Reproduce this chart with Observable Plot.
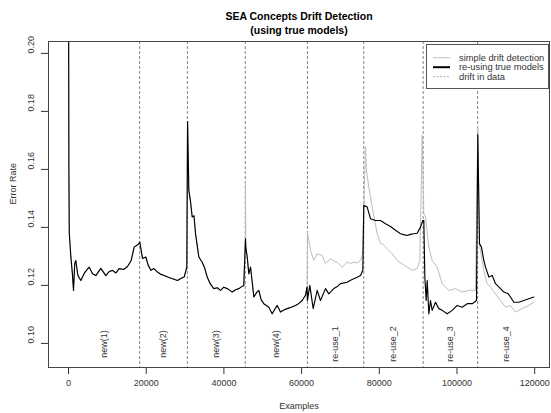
<!DOCTYPE html>
<html>
<head>
<meta charset="utf-8">
<script src="https://cdn.jsdelivr.net/npm/d3@7"></script>
<script src="https://cdn.jsdelivr.net/npm/@observablehq/plot@0.6"></script>
<style>
  body { margin: 0; background: #fff; }
  #wrap { position: relative; width: 551px; height: 413px; font-family: "Liberation Sans", Arial, sans-serif; }
  #legend { position: absolute; left: 0; top: 0; pointer-events: none; }
</style>
</head>
<body>
<div id="wrap"></div>
<script>
// ---- data ----
const title1 = "SEA Concepts Drift Detection";
const title2 = "(using true models)";
const xTicks = [0, 20000, 40000, 60000, 80000, 100000, 120000];
const yTicks = [0.10, 0.12, 0.14, 0.16, 0.18, 0.20];
const driftPoints = [18300, 30600, 45500, 61500, 76000, 91300, 105300];
const segmentBounds = [0, 18300, 30600, 45500, 61500, 76000, 91300, 105300, 120000];
const segmentLabels = ["new(1)", "new(2)", "new(3)", "new(4)", "re-use_1", "re-use_2", "re-use_3", "re-use_4"];
const legendLabels = ["simple drift detection", "re-using true models", "drift in data"];

// shared part (new concepts: both methods nearly identical)
const sharedX = [0, 100, 200, 600, 1000, 1290, 1600, 1880, 2400, 3170, 4200, 5320, 6200, 7030, 8320, 9600, 10500, 11330, 12200, 13040, 14200, 15190, 16100, 16900, 17800, 18360, 19050, 19900, 20500, 21200, 22000, 22900, 23800, 24630, 25700, 26770, 28060, 29000, 29780, 30450, 30650, 30970, 31400, 31840, 32300, 32700, 33550, 34410, 35000, 35700, 36500, 37400, 38300, 39120, 39980, 41000, 42130, 43000, 43840, 44500, 45120, 45550, 45650, 46000, 46410, 46850, 47300, 47700, 48400, 48990, 49600, 50270, 51000, 51560, 52430, 53100, 53720, 54570, 55400, 56290, 57300, 58430, 59300, 60150, 61000, 61400];
const sharedY = [0.230, 0.160, 0.138, 0.130, 0.124, 0.1183, 0.1275, 0.1286, 0.1235, 0.1217, 0.1245, 0.1263, 0.1240, 0.1234, 0.1259, 0.1234, 0.1248, 0.1252, 0.1243, 0.1258, 0.1255, 0.1265, 0.1285, 0.1332, 0.1340, 0.1349, 0.1293, 0.1298, 0.1270, 0.1252, 0.1258, 0.1246, 0.1238, 0.1234, 0.1228, 0.1223, 0.1217, 0.1225, 0.1229, 0.1263, 0.1765, 0.1528, 0.1490, 0.1436, 0.1440, 0.1378, 0.1298, 0.1280, 0.1262, 0.1229, 0.1205, 0.1189, 0.1192, 0.1183, 0.1194, 0.1188, 0.1177, 0.1185, 0.1189, 0.1195, 0.1200, 0.1361, 0.1330, 0.1298, 0.1240, 0.1263, 0.1210, 0.1160, 0.1175, 0.1183, 0.1150, 0.1137, 0.1130, 0.1125, 0.1102, 0.1118, 0.1131, 0.1108, 0.1115, 0.1120, 0.1125, 0.1131, 0.1138, 0.1148, 0.1166, 0.1194];

// simple drift detection: extra spike at the start of new(4)
const simpleSpikeX = [45560];
const simpleSpikeY = [0.1556];

// re-using true models (black), after first re-use drift
const reuseX = [61500, 62110, 62980, 64010, 64860, 66150, 67000, 68290, 69100, 70010, 71730, 72600, 73440, 74300, 75160, 75760, 76010, 76880, 77730, 79020, 80310, 81600, 82880, 84170, 85460, 86300, 87170, 88000, 88890, 89750, 90600, 91200, 91460, 91720, 92070, 92330, 92750, 93180, 93610, 94470, 95320, 96190, 97480, 98770, 100050, 101340, 102630, 103920, 105020, 105350, 105790, 106300, 106900, 107340, 108200, 109060, 109910, 111200, 112060, 113180, 113760, 114620, 115910, 117190, 118480, 119770];
const reuseY = [0.1148, 0.1200, 0.1120, 0.1183, 0.1148, 0.1189, 0.1171, 0.1189, 0.1195, 0.1206, 0.1211, 0.1218, 0.1223, 0.1228, 0.1234, 0.1252, 0.1476, 0.1470, 0.1430, 0.1424, 0.1424, 0.1413, 0.1403, 0.1390, 0.1378, 0.1375, 0.1372, 0.1376, 0.1378, 0.1380, 0.1401, 0.1424, 0.1424, 0.1229, 0.1148, 0.1217, 0.1102, 0.1148, 0.1114, 0.1142, 0.1120, 0.1114, 0.1102, 0.1114, 0.1131, 0.1125, 0.1137, 0.1137, 0.1148, 0.1720, 0.1344, 0.1332, 0.1286, 0.1263, 0.1229, 0.1234, 0.1206, 0.1189, 0.1177, 0.1171, 0.1160, 0.1142, 0.1142, 0.1148, 0.1154, 0.1160];

// simple drift detection (gray), after first re-use drift
const simpleX = [61500, 62290, 63150, 64010, 65300, 66150, 67440, 68300, 69160, 70450, 71730, 72600, 73440, 74300, 75160, 75700, 76440, 76700, 77300, 78170, 79450, 80300, 80740, 82030, 83320, 84610, 85890, 87180, 88470, 89750, 90430, 91040, 91460, 91890, 92750, 93610, 94900, 96190, 97900, 99620, 101340, 103040, 104760, 105350, 105790, 106900, 107770, 108630, 109910, 111200, 112490, 113760, 115050, 116770, 118480, 119770];
const simpleY = [0.1384, 0.1321, 0.1286, 0.1309, 0.1303, 0.1275, 0.1292, 0.1285, 0.1280, 0.1263, 0.1280, 0.1276, 0.1280, 0.1278, 0.1286, 0.1309, 0.1680, 0.1597, 0.1539, 0.1470, 0.1378, 0.1345, 0.1344, 0.1327, 0.1309, 0.1286, 0.1275, 0.1263, 0.1252, 0.1258, 0.1286, 0.1717, 0.1447, 0.1436, 0.1332, 0.1286, 0.1263, 0.1206, 0.1183, 0.1189, 0.1177, 0.1183, 0.1183, 0.1746, 0.1340, 0.1252, 0.1206, 0.1194, 0.1171, 0.1148, 0.1125, 0.1131, 0.1108, 0.1120, 0.1131, 0.1142];

// ---- build tables ----
const shared = sharedX.map((x, i) => ({x, y: sharedY[i]}));
const simple = shared
  .concat(simpleSpikeX.map((x, i) => ({x, y: simpleSpikeY[i]})))
  .concat(simpleX.map((x, i) => ({x, y: simpleY[i]})))
  .sort((a, b) => a.x - b.x);
const reuse = shared.concat(reuseX.map((x, i) => ({x, y: reuseY[i]})));
const segments = segmentLabels.map((label, i) => ({label, x: (segmentBounds[i] + segmentBounds[i + 1]) / 2}));

const W = 551, H = 413;
const mL = 48, mR = 2, mT = 41, mB = 46;
const font = "Liberation Sans, Arial, sans-serif";

const chart = Plot.plot({
  width: W, height: H,
  marginLeft: mL, marginRight: mR, marginTop: mT, marginBottom: mB,
  style: {fontFamily: font, fontSize: "9px", color: "#333", background: "#fff", overflow: "visible"},
  x: {domain: [-5150, 123810], ticks: xTicks, tickSize: 7, tickPadding: 5, tickFormat: d => String(d), label: null},
  y: {domain: [0.0917, 0.2041], ticks: yTicks, tickSize: 7, tickFormat: () => "", label: null},
  marks: [
    Plot.ruleX(driftPoints, {x: d => d, stroke: "#666", strokeWidth: 0.8, strokeDasharray: "3,2"}),
    Plot.line(simple, {x: "x", y: "y", stroke: "#bdbdbd", strokeWidth: 1, clip: true}),
    Plot.line(reuse, {x: "x", y: "y", stroke: "#000", strokeWidth: 1.15, clip: true}),
    Plot.text(segments, {x: "x", y: 0.0998, text: "label", rotate: -90, fontSize: 9, fill: "#333"}),
    Plot.text(yTicks, {y: d => d, frameAnchor: "left", dx: -17, rotate: -90, text: d => d3.format(".2f")(d), fontSize: 9, fill: "#333"}),
    Plot.text(["Examples"], {frameAnchor: "bottom", dy: 41, text: d => d, fontSize: 9, fill: "#333"}),
    Plot.text(["Error Rate"], {frameAnchor: "left", dx: -35, rotate: -90, text: d => d, fontSize: 9, fill: "#333"}),
    Plot.text([title1], {frameAnchor: "top", dy: -29, text: d => d, fontSize: 10.5, fontWeight: "bold", fill: "#000"}),
    Plot.text([title2], {frameAnchor: "top", dy: -15, text: d => d, fontSize: 10.5, fontWeight: "bold", fill: "#000"}),
    Plot.frame({stroke: "#444", strokeWidth: 1})
  ]
});
document.getElementById("wrap").appendChild(chart);

// ---- legend overlay ----
const lg = d3.select("#wrap").append("svg").attr("id", "legend").attr("width", W).attr("height", H);
const box = {x: 426, y: 44, w: 122, h: 44};
lg.append("rect").attr("x", box.x + 0.5).attr("y", box.y + 0.5).attr("width", box.w).attr("height", box.h)
  .attr("fill", "#fff").attr("stroke", "#555").attr("stroke-width", 1);
const legendStyles = [
  {stroke: "#c0c0c0", width: 1, dash: null},
  {stroke: "#000", width: 2, dash: null},
  {stroke: "#999", width: 0.8, dash: "2,1.5"}
];
legendLabels.forEach((label, i) => {
  const cy = 57.7 + i * 9.5;
  const s = legendStyles[i];
  const ln = lg.append("line").attr("x1", 433).attr("x2", 450).attr("y1", cy).attr("y2", cy)
    .attr("stroke", s.stroke).attr("stroke-width", s.width);
  if (s.dash) ln.attr("stroke-dasharray", s.dash);
  lg.append("text").attr("x", 459).attr("y", cy).attr("dy", "0.35em")
    .attr("font-family", font).attr("font-size", 9.3).attr("fill", "#333").text(label);
});
</script>
</body>
</html>
